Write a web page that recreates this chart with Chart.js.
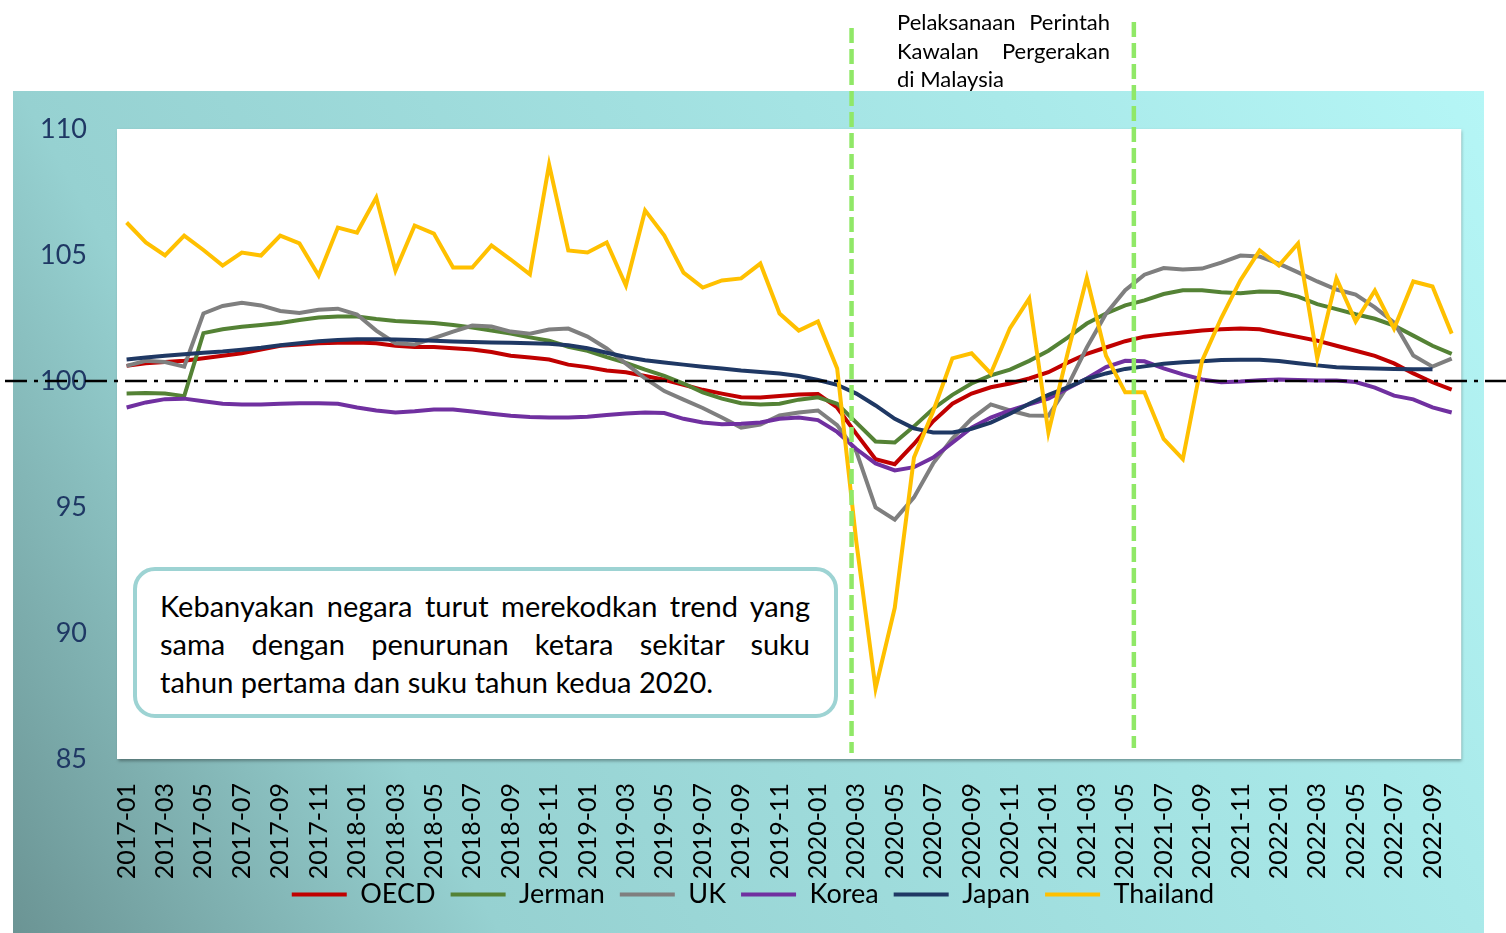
<!DOCTYPE html>
<html lang="ms">

<head>
  <meta charset="UTF-8" />
  <title>Indeks Utama - OECD dan negara terpilih</title>
  <script src="https://cdn.jsdelivr.net/npm/chart.js"></script>
  <style>
    * {
      box-sizing: border-box;
    }

    body,
    html {
      margin: 0;
      width: 1506px;
      height: 933px;
      overflow: hidden;
      background: #fff;
      font-family: 'Lato', 'Open Sans', sans-serif;
      color: #000;
    }

    .wrap {
      position: relative;
      width: 1506px;
      height: 933px;
    }

    canvas {
      position: absolute;
      left: 0;
      top: 0;
    }

    .nota {
      position: absolute;
      left: 897px;
      top: 8px;
      width: 213px;
      font-size: 22px;
      line-height: 28.5px;
    }

    .nota span,
    .kotak span {
      display: block;
      text-align: justify;
      text-align-last: justify;
    }

    .nota span.akhir,
    .kotak span.akhir {
      text-align-last: left;
    }

    .kotak {
      position: absolute;
      left: 133px;
      top: 567px;
      width: 705px;
      height: 151px;
      background: #fff;
      border: 4px solid #9dd3d3;
      border-radius: 22px;
      padding: 16px 24px 0 23px;
      font-size: 29px;
      line-height: 38px;
    }
  </style>
</head>

<body>
  <div class="wrap">
    <canvas id="grafIndeks" width="1506" height="933" role="img" aria-label="Indeks OECD dan negara terpilih 2017-2022"></canvas>

    <div class="nota">
      <span>Pelaksanaan Perintah</span>
      <span>Kawalan Pergerakan</span>
      <span class="akhir">di Malaysia</span>
    </div>

    <div class="kotak">
      <span>Kebanyakan negara turut merekodkan trend yang</span>
      <span>sama dengan penurunan ketara sekitar suku</span>
      <span class="akhir">tahun pertama dan suku tahun kedua 2020.</span>
    </div>
  </div>

  <script>
    const bulan = [
      '2017-01', '2017-02', '2017-03', '2017-04', '2017-05', '2017-06', '2017-07', '2017-08', '2017-09', '2017-10', '2017-11', '2017-12',
      '2018-01', '2018-02', '2018-03', '2018-04', '2018-05', '2018-06', '2018-07', '2018-08', '2018-09', '2018-10', '2018-11', '2018-12',
      '2019-01', '2019-02', '2019-03', '2019-04', '2019-05', '2019-06', '2019-07', '2019-08', '2019-09', '2019-10', '2019-11', '2019-12',
      '2020-01', '2020-02', '2020-03', '2020-04', '2020-05', '2020-06', '2020-07', '2020-08', '2020-09', '2020-10', '2020-11', '2020-12',
      '2021-01', '2021-02', '2021-03', '2021-04', '2021-05', '2021-06', '2021-07', '2021-08', '2021-09', '2021-10', '2021-11', '2021-12',
      '2022-01', '2022-02', '2022-03', '2022-04', '2022-05', '2022-06', '2022-07', '2022-08', '2022-09', '2022-10'
    ];

    const oecd = [
      100.6, 100.7, 100.75, 100.8, 100.9, 101.0, 101.1, 101.25, 101.4, 101.45, 101.5, 101.52,
      101.53, 101.5, 101.4, 101.35, 101.35, 101.3, 101.25, 101.15, 101.0, 100.93, 100.85, 100.65,
      100.55, 100.42, 100.35, 100.2, 100.05, 99.85, 99.65, 99.5, 99.36, 99.35, 99.4, 99.46,
      99.48, 98.95, 97.9, 96.9, 96.7, 97.5, 98.4, 99.1, 99.5, 99.75, 99.9, 100.1,
      100.35, 100.73, 101.08, 101.33, 101.58, 101.76, 101.85, 101.92, 102.0, 102.05, 102.08, 102.05,
      101.9, 101.75, 101.6, 101.4, 101.2, 101.0, 100.7, 100.3, 99.95, 99.66
    ];

    const jerman = [
      99.5, 99.52, 99.5, 99.4, 101.9, 102.05, 102.15, 102.22, 102.3, 102.42, 102.52, 102.56,
      102.56, 102.46, 102.38, 102.34, 102.3, 102.22, 102.12, 102.0, 101.88, 101.73, 101.6, 101.36,
      101.2, 100.95, 100.72, 100.45, 100.2, 99.9, 99.55, 99.3, 99.12, 99.07, 99.1, 99.26,
      99.35, 99.1, 98.35, 97.6, 97.56, 98.2, 98.9, 99.45, 99.9, 100.22, 100.45, 100.8,
      101.2, 101.72, 102.28, 102.68, 103.0, 103.2, 103.45, 103.6, 103.6, 103.52, 103.48, 103.55,
      103.53, 103.35, 103.05, 102.85, 102.65, 102.47, 102.2, 101.8, 101.4, 101.08
    ];

    const uk = [
      100.6, 100.8, 100.75, 100.57, 102.68, 102.98, 103.1, 103.0, 102.78, 102.7, 102.83, 102.87,
      102.64, 102.0, 101.5, 101.45, 101.7, 101.96, 102.2, 102.16, 101.96, 101.88, 102.04, 102.08,
      101.76, 101.29, 100.69, 100.1, 99.6, 99.26, 98.93, 98.55, 98.15, 98.27, 98.63, 98.75,
      98.83, 98.25, 97.2, 94.98, 94.5, 95.38, 96.73, 97.72, 98.5, 99.07, 98.83, 98.63,
      98.62, 99.8, 101.33, 102.67, 103.6, 104.22, 104.48, 104.42, 104.46, 104.7, 104.98, 104.94,
      104.66, 104.31, 103.95, 103.63, 103.43, 102.92, 102.32, 101.01, 100.57, 100.89
    ];

    const korea = [
      98.95, 99.15, 99.28, 99.3, 99.2, 99.1, 99.07, 99.07, 99.1, 99.12, 99.12, 99.1,
      98.95, 98.83, 98.75, 98.8, 98.87, 98.87, 98.79, 98.7, 98.62, 98.57, 98.55, 98.55,
      98.58, 98.65, 98.71, 98.75, 98.73, 98.5, 98.35, 98.28, 98.3, 98.35, 98.5, 98.55,
      98.45, 97.98, 97.3, 96.73, 96.45, 96.58, 96.96, 97.55, 98.15, 98.55, 98.83, 99.07,
      99.3, 99.7, 100.1, 100.55, 100.8, 100.78, 100.5, 100.26, 100.06, 99.95, 99.98, 100.03,
      100.06, 100.04, 100.02, 100.02, 99.96, 99.74, 99.42, 99.27, 98.95, 98.75
    ];

    const japan = [
      100.85, 100.93, 101.0, 101.06, 101.12, 101.17, 101.24, 101.32, 101.42, 101.5, 101.58, 101.63,
      101.66, 101.66, 101.65, 101.63, 101.6, 101.57, 101.55, 101.53, 101.52, 101.5, 101.48, 101.42,
      101.3, 101.12, 100.95, 100.82, 100.73, 100.65, 100.57, 100.5, 100.42, 100.36, 100.3, 100.2,
      100.04, 99.85, 99.5, 99.03, 98.5, 98.12, 97.96, 97.96, 98.1, 98.35, 98.7, 99.1,
      99.45, 99.75, 100.08, 100.3, 100.48, 100.58, 100.68, 100.74, 100.78, 100.83, 100.84, 100.84,
      100.79, 100.7, 100.62, 100.55, 100.52, 100.5, 100.48, 100.47, 100.47, null
    ];

    const thailand = [
      106.29, 105.5, 104.98, 105.77, 105.2, 104.58, 105.1, 104.98, 105.77, 105.46, 104.19, 106.09,
      105.89, 107.28, 104.38, 106.17, 105.85, 104.5, 104.5, 105.38, 104.82, 104.23, 108.59, 105.18,
      105.1, 105.5, 103.79, 106.77, 105.77, 104.3, 103.71, 103.99, 104.07, 104.66, 102.68, 102.0,
      102.36, 100.5, 93.6, 87.8, 91.0, 96.96, 98.8, 100.9, 101.1, 100.3, 102.1, 103.27,
      97.96, 101.1, 104.1, 101.0, 99.55, 99.55, 97.7, 96.9, 100.8, 102.5, 104.0, 105.18,
      104.58, 105.46, 100.9, 104.07, 102.36, 103.59, 102.08, 103.95, 103.75, 101.88
    ];

    const nilaiRujukan = 100;
    // kedudukan garis PKP, dalam unit indeks bulan
    const garisPKP = [37.75, 52.45];

    const latarCarta = {
      id: 'latarCarta',
      beforeDraw(chart) {
        const { ctx, chartArea: a } = chart;
        ctx.save();
        const g = ctx.createLinearGradient(13, 933, 1484, 91);
        g.addColorStop(0, '#6b9494');
        g.addColorStop(0.25, '#96d1d1');
        g.addColorStop(0.75, '#a9e9e9');
        g.addColorStop(1, '#b5f6f6');
        ctx.fillStyle = g;
        ctx.fillRect(13, 91, 1471, 842);
        ctx.shadowColor = 'rgba(0,0,0,0.35)';
        ctx.shadowBlur = 3;
        ctx.shadowOffsetX = 1;
        ctx.shadowOffsetY = 2;
        ctx.fillStyle = '#fff';
        ctx.fillRect(a.left, a.top, a.right - a.left, a.bottom - a.top);
        ctx.restore();
      },
      afterDatasetsDraw(chart) {
        const { ctx } = chart;
        const y = chart.scales.y.getPixelForValue(nilaiRujukan);
        ctx.save();
        ctx.strokeStyle = '#000';
        ctx.lineWidth = 2.5;
        ctx.setLineDash([22, 7, 4, 7]);
        ctx.beginPath();
        ctx.moveTo(5, y);
        ctx.lineTo(1506, y);
        ctx.stroke();

        ctx.strokeStyle = '#90e867';
        ctx.lineWidth = 4.5;
        ctx.setLineDash([15, 6]);
        const hujung = [[28, 753], [22, 748]];
        garisPKP.forEach((v, i) => {
          const x = chart.scales.x.getPixelForValue(v);
          ctx.beginPath();
          ctx.moveTo(x, hujung[i][0]);
          ctx.lineTo(x, hujung[i][1]);
          ctx.stroke();
        });
        ctx.restore();
      }
    };

    function siri(label, data, warna, susunan) {
      return {
        label: label,
        data: data,
        borderColor: warna,
        backgroundColor: warna,
        borderWidth: 4,
        pointRadius: 0,
        tension: 0,
        order: susunan
      };
    }

    Chart.defaults.font.family = "'Lato', 'Open Sans', sans-serif";

    new Chart(document.getElementById('grafIndeks'), {
      type: 'line',
      data: {
        labels: bulan,
        datasets: [
          siri('OECD', oecd, '#c00000', 6),
          siri('Jerman', jerman, '#548235', 5),
          siri('UK', uk, '#7f7f7f', 4),
          siri('Korea', korea, '#7030a0', 3),
          siri('Japan', japan, '#1f3864', 2),
          siri('Thailand', thailand, '#ffc000', 1)
        ]
      },
      options: {
        responsive: false,
        animation: false,
        layout: {
          padding: { left: 0, right: 0, top: 129, bottom: 15 }
        },
        plugins: {
          tooltip: { enabled: false },
          legend: {
            position: 'bottom',
            labels: {
              boxWidth: 55,
              boxHeight: 4,
              padding: 15,
              color: '#000',
              font: { size: 27 },
              sort: (a, b) => a.datasetIndex - b.datasetIndex,
              generateLabels: (chart) => Chart.defaults.plugins.legend.labels.generateLabels(chart)
                .map((l) => Object.assign(l, { lineWidth: 0 }))
            }
          }
        },
        scales: {
          x: {
            offset: true,
            grid: { display: false, drawTicks: false },
            border: { display: false },
            ticks: {
              autoSkip: false,
              maxRotation: 90,
              minRotation: 90,
              padding: 24,
              color: '#000',
              font: { size: 25 },
              callback: (v, i) => (i % 2 === 0 ? bulan[i] : '')
            },
            afterFit: (s) => {
              s.height = 107;
              // label panjang melimpah ke kawasan legenda, jangan dipotong
              s._computeLabelArea = () => undefined;
            }
          },
          y: {
            min: 85,
            max: 110,
            grid: { display: false, drawTicks: false },
            border: { display: false },
            ticks: {
              stepSize: 5,
              padding: 30,
              color: '#1f3864',
              font: { size: 27 }
            },
            afterFit: (s) => { s.width = 117; }
          },
          kanan: {
            position: 'right',
            grid: { display: false, drawTicks: false },
            border: { display: false },
            ticks: { display: false },
            afterFit: (s) => { s.width = 44; }
          }
        }
      },
      plugins: [latarCarta]
    });
  </script>
</body>

</html>
